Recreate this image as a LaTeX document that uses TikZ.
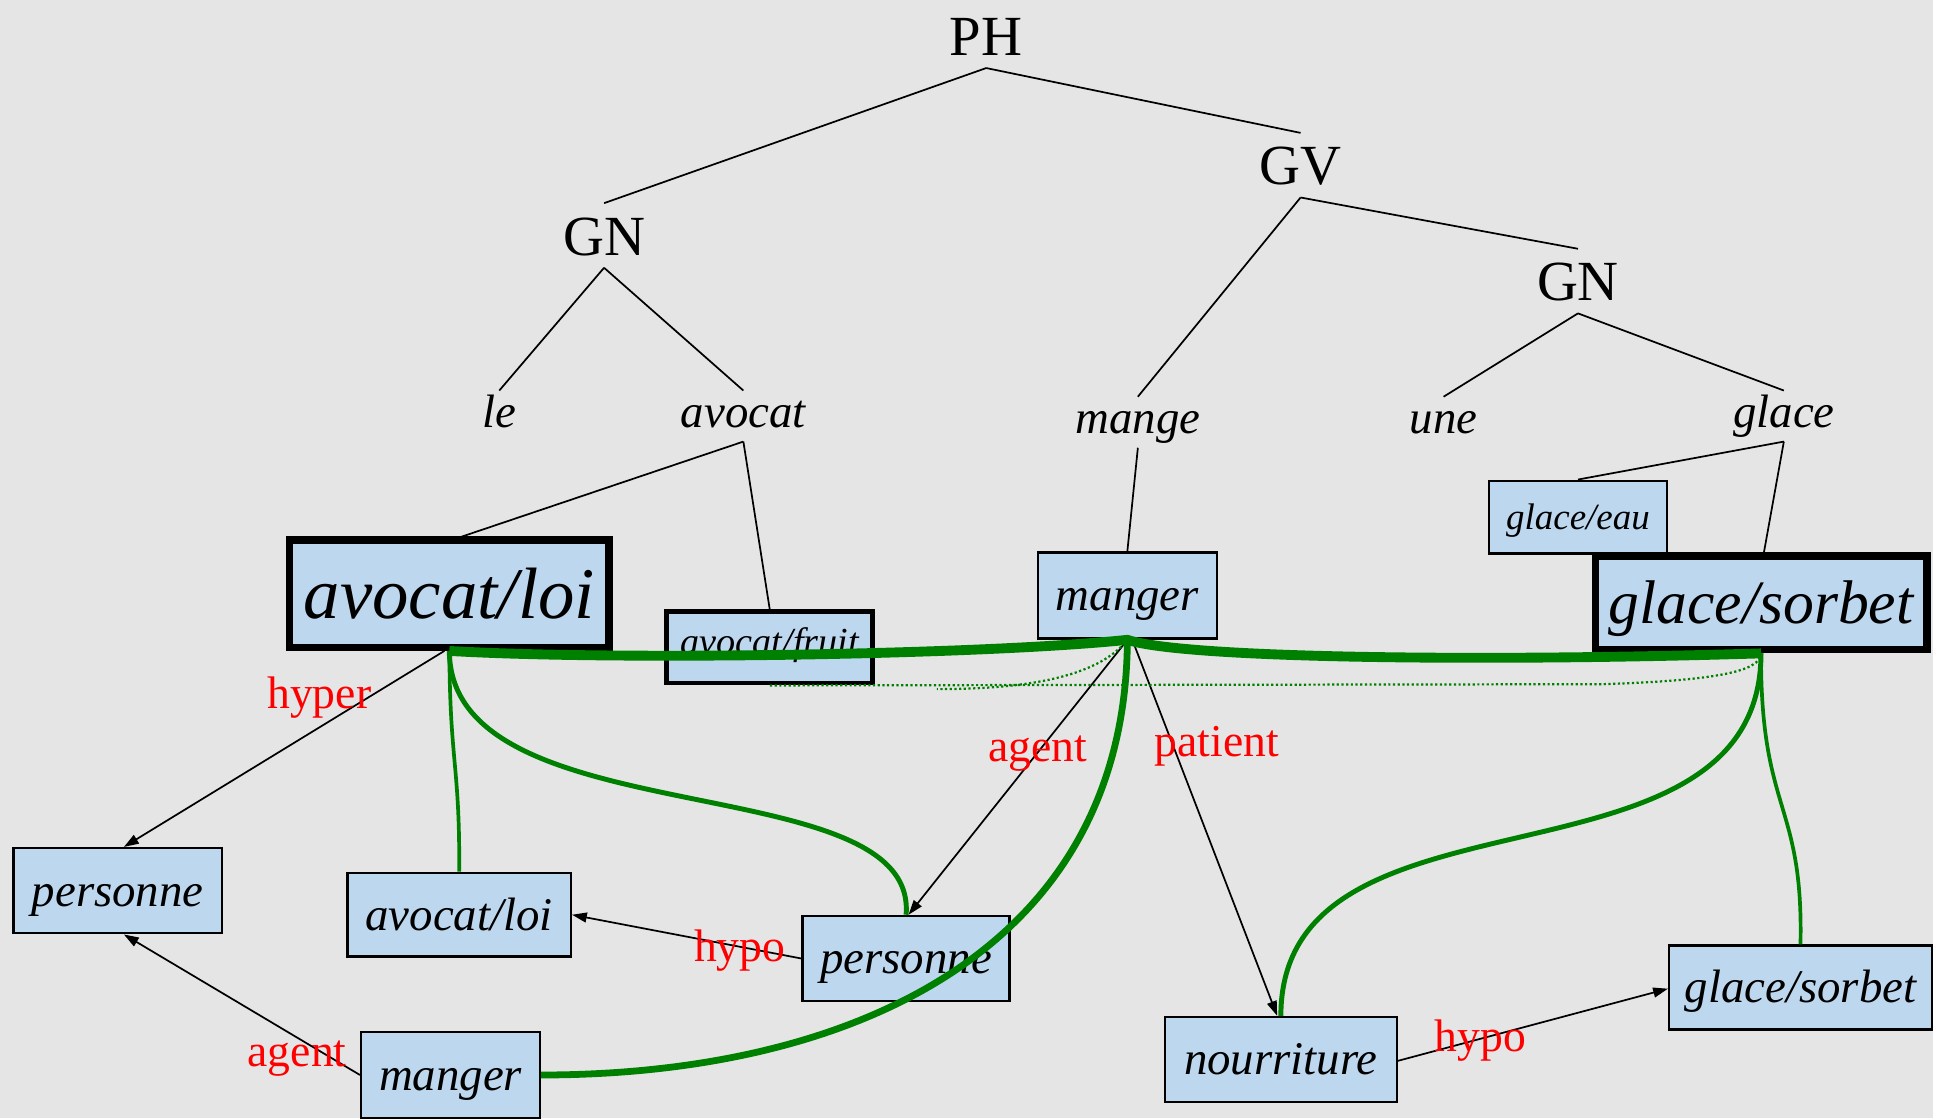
\documentclass[tikz,border=0pt]{standalone}
\usepackage{fontspec}
\setmainfont{Liberation Serif}
\usetikzlibrary{arrows.meta}
\definecolor{boxblue}{RGB}{189,215,238}
\definecolor{bggray}{RGB}{229,229,229}
\definecolor{gline}{RGB}{0,128,0}
\tikzset{
  cat/.style={font=\fontsize{46}{48}\selectfont, text height=32pt, text depth=0pt, inner sep=10pt, anchor=base},
  word/.style={font=\fontsize{38}{40}\selectfont\itshape, text height=28pt, text depth=9pt, inner sep=2pt, anchor=base},
  box/.style={draw=black, fill=boxblue, line width=2pt, inner sep=0pt, text height=34pt, text depth=9pt, font=\fontsize{38}{40}\selectfont\itshape},
  tline/.style={line width=1.4pt},
  arr/.style={line width=1.4pt, -{Triangle[length=12pt,width=8pt]}},
  lab/.style={text=red, font=\fontsize{37}{40}\selectfont, inner sep=0pt, anchor=base},
  gthick/.style={draw=gline, line width=8pt},
  gmed/.style={draw=gline, line width=4pt},
  gthin/.style={draw=gline, line width=3pt},
  gdot/.style={draw=gline, line width=1.8pt, dotted},
}
\begin{document}
\begin{tikzpicture}[x=1pt,y=-1pt]
\fill[bggray] (0,0) rectangle (1568,907);
\useasboundingbox (0,0) rectangle (1568,907);

% tree labels
\node[cat] (ph) at (800,45) {PH};
\node[cat] (gv) at (1055,150) {GV};
\node[cat] (gnl) at (490,207) {GN};
\node[cat] (gnr) at (1280,244) {GN};
\node[word] (le) at (405,347) {le};
\node[word] (avocat) at (603,347) {avocat};
\node[word] (mange) at (923,352) {mange};
\node[word] (une) at (1171,352) {une};
\node[word] (glace) at (1447,347) {glace};

% boxes
\node[box, line width=6pt, minimum width=259pt, minimum height=87pt, font=\fontsize{59}{62}\selectfont\itshape, text height=54pt, text depth=14pt] (avl) at (364.5,481.5) {avocat/loi};
\node[box, line width=4pt, minimum width=167pt, minimum height=58pt, font=\fontsize{31}{33}\selectfont\itshape, text height=24pt, text depth=12pt] (avf) at (624.5,525) {avocat/fruit};
\node[box, minimum width=145pt, minimum height=70pt] (mangT) at (914.5,483) {manger};
\node[box, minimum width=144pt, minimum height=59pt, font=\fontsize{30}{32}\selectfont\itshape, text height=27pt, text depth=7pt] (gle) at (1280,419.5) {glace/eau};
\node[box, line width=6pt, minimum width=269pt, minimum height=76pt, font=\fontsize{50}{52}\selectfont\itshape, text height=45pt, text depth=12pt] (glsB) at (1428.5,489) {glace/sorbet};
\node[box, minimum width=169pt, minimum height=69pt] (persL) at (95.5,722.5) {personne};
\node[box, minimum width=181pt, minimum height=68pt] (avlS) at (372.5,742) {avocat/loi};
\node[box, minimum width=168pt, minimum height=69pt] (persM) at (735,777.5) {personne};
\node[box, minimum width=145pt, minimum height=70pt] (manB) at (365.5,872) {manger};
\node[box, minimum width=188pt, minimum height=69pt] (nour) at (1039,859.5) {nourriture};
\node[box, minimum width=213pt, minimum height=68pt] (glsS) at (1460.5,801) {glace/sorbet};

% tree lines
\draw[tline] (ph.south) -- (gnl.north);
\draw[tline] (ph.south) -- (gv.north);
\draw[tline] (gv.south) -- (mange.north);
\draw[tline] (gv.south) -- (gnr.north);
\draw[tline] (gnl.south) -- (le.north);
\draw[tline] (gnl.south) -- (avocat.north);
\draw[tline] (gnr.south) -- (une.north);
\draw[tline] (gnr.south) -- (glace.north);
\draw[tline] (avocat.south) -- ([xshift=5pt,yshift=-2pt]avl.north);
\draw[tline] (avocat.south) -- ([yshift=-1pt]avf.north);
\draw[tline] (mange.south) -- (mangT.north);
\draw[tline] (glace.south) -- (gle.north);
\draw[tline] (glace.south) -- ([xshift=2pt,yshift=-2pt]glsB.north);

% black arrows
\draw[arr] ([xshift=-4pt]avl.south) -- ([xshift=5pt]persL.north);
\draw[arr] (mangT.south) -- ([xshift=2pt]persM.north);
\draw[arr] ([xshift=4pt]mangT.south) -- ([xshift=-3pt]nour.north);
\draw[arr] (persM.west) -- (avlS.east);
\draw[arr] (manB.west) -- ([xshift=5pt]persL.south);
\draw[arr] ([yshift=-1pt]nour.east) -- ([yshift=-1pt]glsS.west);

% green links
\draw[gdot] (avf.south) -- (1300,555) .. controls (1390,552) and (1428,545) .. (glsB.south);
\draw[gdot] (mangT.south) .. controls (890,550) and (830,559) .. (760,559);
\draw[gthick] (avl.south) .. controls (500,536) and (800,531) .. (mangT.south)
  .. controls (960,534) and (1200,537) .. (glsB.south);
\draw[gthin] (avl.south) .. controls (365,620) and (373,620) .. (avlS.north);
\draw[gmed] (avl.south) .. controls (365,680) and (745,620) .. (persM.north);
\draw[gthick, line width=5.5pt] (mangT.south) .. controls (913,772) and (689,872) .. (manB.east);
\draw[gmed] (glsB.south) .. controls (1428,735) and (1039,624) .. (nour.north);
\draw[gthin] (glsB.south) .. controls (1428,660) and (1463,650) .. (glsS.north);

% relation labels
\node[lab] (lhyper) at (259,575) {hyper};
\node[lab] (lagent1) at (842,618) {agent};
\node[lab] (lpatient) at (987,614) {patient};
\node[lab] (lhypo1) at (600,780) {hypo};
\node[lab] (lagent2) at (241,865) {agent};
\node[lab] (lhypo2) at (1201,853) {hypo};
\end{tikzpicture}
\end{document}
